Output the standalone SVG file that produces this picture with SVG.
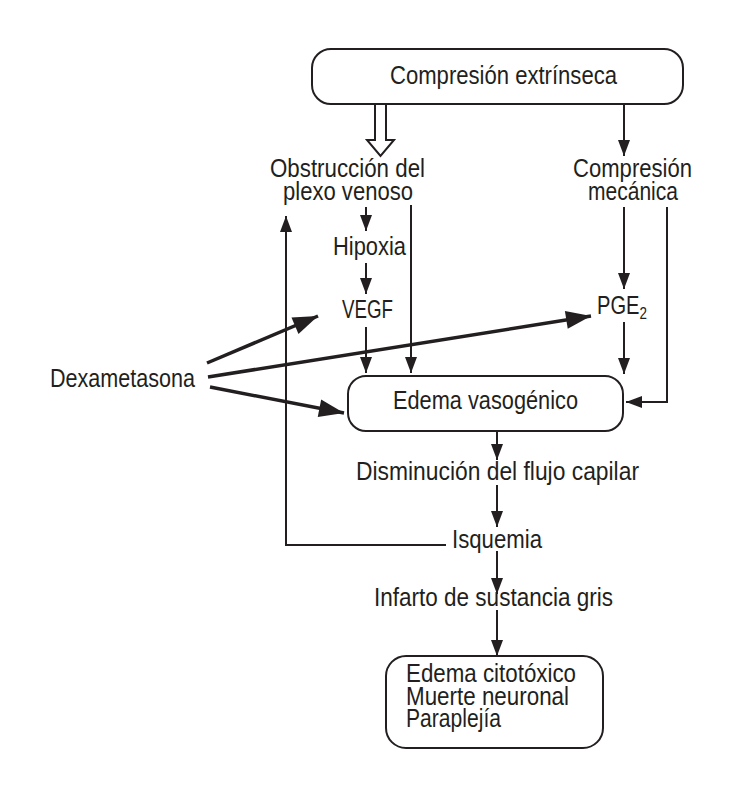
<svg xmlns="http://www.w3.org/2000/svg" width="730" height="797" viewBox="0 0 730 797">
<style>
text{font-family:"Liberation Sans",Arial,sans-serif;font-size:25.5px;fill:#231f20}
.box{fill:#fff;stroke:#231f20;stroke-width:2}
.c{fill:none;stroke:#231f20;stroke-width:2}
.t{fill:none;stroke:#231f20;stroke-width:3.5}
</style>
<defs>
<marker id="ah" markerUnits="userSpaceOnUse" markerWidth="18" markerHeight="14" refX="16" refY="6" orient="auto" overflow="visible">
<path d="M0,0 L16,6 L0,12 z" fill="#231f20"/>
</marker>
<marker id="ahb" markerUnits="userSpaceOnUse" markerWidth="28" markerHeight="20" refX="25" refY="9" orient="auto" overflow="visible">
<path d="M0,0 L25,9 L0,18 z" fill="#231f20"/>
</marker>
</defs>
<rect width="730" height="797" fill="#fff"/>
<g id="connectors">
<path d="M375,104 V140 H367 L380.5,156 L394,140 H386 V104" fill="#fff" stroke="#231f20" stroke-width="2"/>
<line class="c" x1="624" y1="104" x2="624" y2="156" marker-end="url(#ah)"/>
<line class="c" x1="366" y1="207" x2="366" y2="231" marker-end="url(#ah)"/>
<line class="c" x1="366" y1="263" x2="366" y2="294" marker-end="url(#ah)"/>
<line class="c" x1="366" y1="327" x2="366" y2="373" marker-end="url(#ah)"/>
<line class="c" x1="411" y1="205" x2="411" y2="373" marker-end="url(#ah)"/>
<line class="c" x1="624" y1="207" x2="624" y2="289" marker-end="url(#ah)"/>
<line class="c" x1="624" y1="322" x2="624" y2="374" marker-end="url(#ah)"/>
<polyline class="c" points="667,207 667,402 626,402" marker-end="url(#ah)"/>
<polyline class="c" points="446,545 286,545 286,216" marker-end="url(#ah)"/>
<line class="c" x1="497" y1="431" x2="497" y2="460" marker-end="url(#ah)"/>
<line class="c" x1="497" y1="485" x2="497" y2="527" marker-end="url(#ah)"/>
<line class="c" x1="497" y1="551" x2="497" y2="594" marker-end="url(#ah)"/>
<line class="c" x1="497" y1="610" x2="497" y2="656" marker-end="url(#ah)"/>
<line class="t" x1="207" y1="363" x2="318" y2="316" marker-end="url(#ahb)"/>
<line class="t" x1="208" y1="377" x2="591" y2="316" marker-end="url(#ahb)"/>
<line class="t" x1="210" y1="387" x2="344" y2="413" marker-end="url(#ahb)"/>
</g>
<g id="n-compresion-extrinseca">
<rect class="box" x="312" y="49" width="371" height="55" rx="19"/>
<text x="390" y="84" textLength="227" lengthAdjust="spacingAndGlyphs">Compresión extrínseca</text>
</g>
<g id="n-obstruccion">
<text x="270" y="177" textLength="155" lengthAdjust="spacingAndGlyphs">Obstrucción del</text>
<text x="283" y="200" textLength="130" lengthAdjust="spacingAndGlyphs">plexo venoso</text>
</g>
<g id="n-compresion-mecanica">
<text x="573" y="177" textLength="119" lengthAdjust="spacingAndGlyphs">Compresión</text>
<text x="588" y="200" textLength="90" lengthAdjust="spacingAndGlyphs">mecánica</text>
</g>
<g id="n-hipoxia">
<text x="333" y="255" textLength="73" lengthAdjust="spacingAndGlyphs">Hipoxia</text>
</g>
<g id="n-vegf">
<text x="342" y="318" textLength="51" lengthAdjust="spacingAndGlyphs">VEGF</text>
</g>
<g id="n-pge2">
<text x="597" y="314" textLength="50" lengthAdjust="spacingAndGlyphs">PGE<tspan dy="5" style="font-size:17px">2</tspan></text>
</g>
<g id="n-dexametasona">
<text x="50" y="387" textLength="145" lengthAdjust="spacingAndGlyphs">Dexametasona</text>
</g>
<g id="n-edema-vasogenico">
<rect class="box" x="348" y="376" width="275" height="55" rx="18"/>
<text x="393" y="409" textLength="185" lengthAdjust="spacingAndGlyphs">Edema vasogénico</text>
</g>
<g id="n-disminucion">
<text x="356" y="480" textLength="283" lengthAdjust="spacingAndGlyphs">Disminución del flujo capilar</text>
</g>
<g id="n-isquemia">
<text x="452" y="548" textLength="90" lengthAdjust="spacingAndGlyphs">Isquemia</text>
</g>
<g id="n-infarto">
<text x="374" y="606" textLength="239" lengthAdjust="spacingAndGlyphs">Infarto de sustancia gris</text>
</g>
<g id="n-resultado">
<rect class="box" x="386" y="656" width="217" height="92" rx="20"/>
<text x="406" y="682" textLength="170" lengthAdjust="spacingAndGlyphs">Edema citotóxico</text>
<text x="406" y="705" textLength="163" lengthAdjust="spacingAndGlyphs">Muerte neuronal</text>
<text x="406" y="727" textLength="95" lengthAdjust="spacingAndGlyphs">Paraplejía</text>
</g>
</svg>
